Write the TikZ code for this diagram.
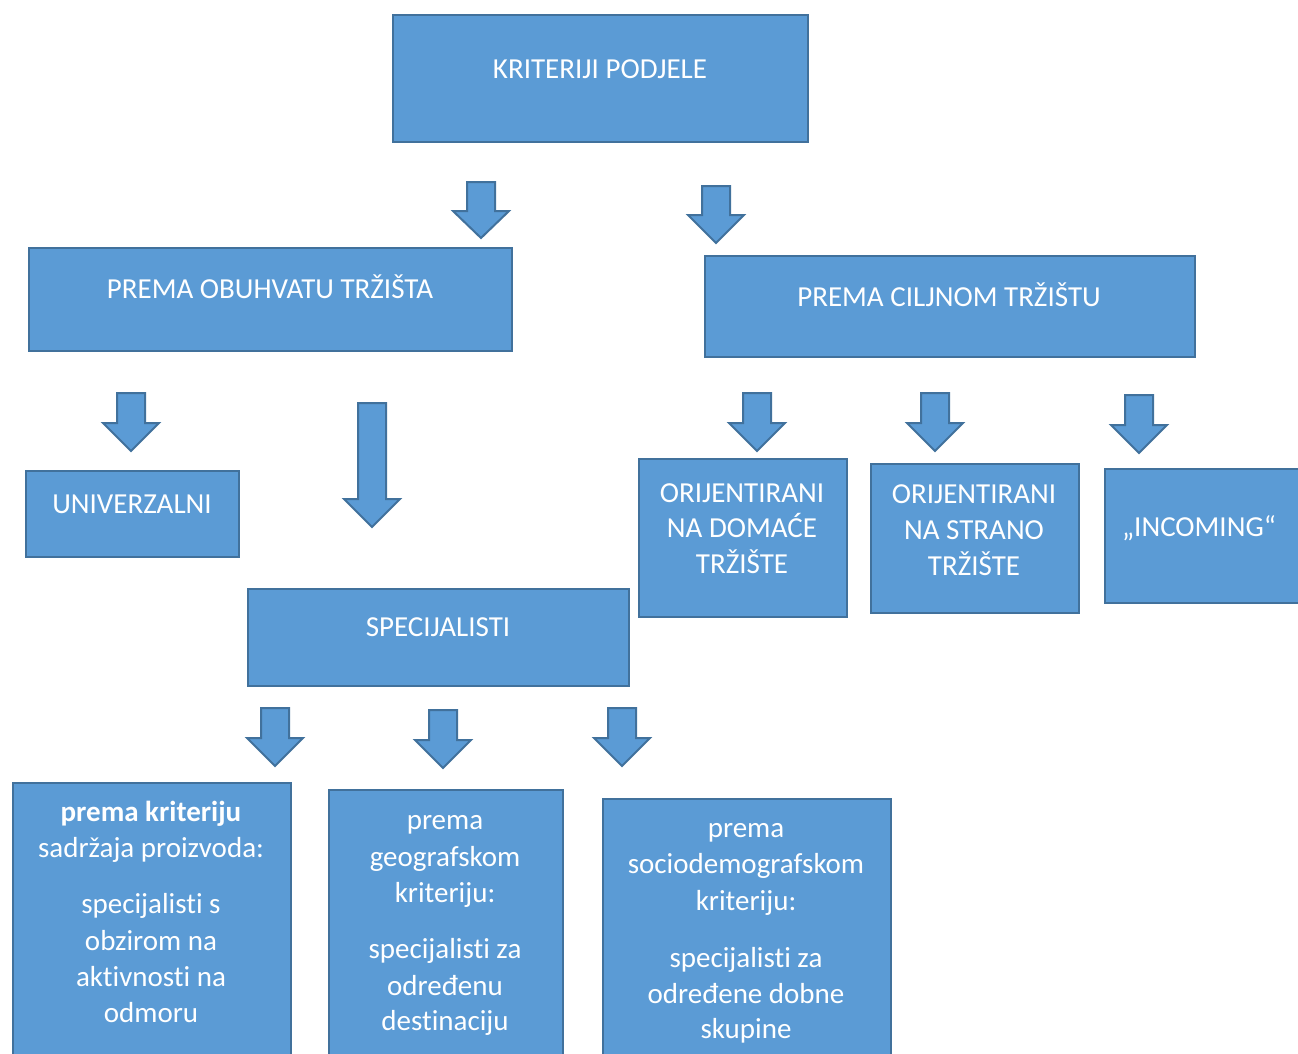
\documentclass[tikz,border=0pt]{standalone}
\usepackage{fontspec}
\setmainfont{Carlito}[Ligatures={NoCommon}]
\definecolor{boxfill}{HTML}{5B9BD5}
\definecolor{boxline}{HTML}{41719C}
\tikzset{
  x=1pt, y=-1pt,
  boxsty/.style={draw=boxline, fill=boxfill, line width=2pt, inner sep=0pt},
  arrowsty/.style={draw=boxline, fill=boxfill, line width=2pt, line join=miter},
  txt/.style={text=white, font=\fontsize{29}{36}\selectfont, inner sep=0pt, anchor=base},
  btxt/.style={txt, font=\fontsize{29}{36}\selectfont\bfseries},
}
\newcommand{\blockarrow}[4]{%
  \draw[arrowsty] ({#1-14},#2) -- ({#1+14},#2) -- ({#1+14},#3) -- ({#1+28},#3)
    -- (#1,#4) -- ({#1-28},#3) -- ({#1-14},#3) -- cycle;}
\newcommand{\rectbox}[5]{%
  \node[boxsty, anchor=north west, minimum width={#4-#2-1}, minimum height={#5-#3-1}] (#1) at (#2,#3) {};}
\begin{document}
\begin{tikzpicture}
\useasboundingbox (0,0) rectangle (1298,1053);
\clip (0,0) rectangle (1298,1053);
\fill[white] (0,0) rectangle (1298,1053);

% boxes
\rectbox{root}{392}{14}{808}{142}
\rectbox{obuhvat}{28}{247}{512}{351}
\rectbox{ciljno}{704}{255}{1195}{357}
\rectbox{univ}{25}{470}{239}{557}
\rectbox{spec}{247}{588}{629}{686}
\rectbox{domace}{638}{458}{847}{617}
\rectbox{strano}{870}{463}{1079}{613}
\rectbox{incoming}{1104}{468}{1310}{603}
\rectbox{sadrzaj}{12}{782}{291}{1070}
\rectbox{geo}{328}{789}{563}{1070}
\rectbox{socio}{602}{798}{891}{1070}

% texts
\node[txt] (troot) at (600,78) {KRITERIJI PODJELE};
\node[txt] (tobuhvat) at (270,298) {PREMA OBUHVATU TRŽIŠTA};
\node[txt] (tciljno) at (949,306) {PREMA CILJNOM TRŽIŠTU};
\node[txt] (tuniv) at (132,513) {UNIVERZALNI};
\node[txt] (tspec) at (438,636) {SPECIJALISTI};
\node[txt] (tdom1) at (742,502) {ORIJENTIRANI};
\node[txt] (tdom2) at (742,537) {NA DOMAĆE};
\node[txt] (tdom3) at (742,573) {TRŽIŠTE};
\node[txt] (tstr1) at (974,503) {ORIJENTIRANI};
\node[txt] (tstr2) at (974,539) {NA STRANO};
\node[txt] (tstr3) at (974,575) {TRŽIŠTE};
\node[txt] (tinc) at (1199,536) {„INCOMING“};

\node[btxt] (ts1) at (151,821) {prema kriteriju};
\node[txt] (ts2) at (151,857) {sadržaja proizvoda:};
\node[txt] (ts3) at (151,913) {specijalisti s};
\node[txt] (ts4) at (151,950) {obzirom na};
\node[txt] (ts5) at (151,986) {aktivnosti na};
\node[txt] (ts6) at (151,1022) {odmoru};

\node[txt] (tg1) at (445,829) {prema};
\node[txt] (tg2) at (445,866) {geografskom};
\node[txt] (tg3) at (445,902) {kriteriju:};
\node[txt] (tg4) at (445,958) {specijalisti za};
\node[txt] (tg5) at (445,995) {određenu};
\node[txt] (tg6) at (445,1030) {destinaciju};

\node[txt] (tc1) at (746,837) {prema};
\node[txt] (tc2) at (746,873) {sociodemografskom};
\node[txt] (tc3) at (746,910) {kriteriju:};
\node[txt] (tc4) at (746,967) {specijalisti za};
\node[txt] (tc5) at (746,1003) {određene dobne};
\node[txt] (tc6) at (746,1038) {skupine};

% block arrows
\blockarrow{481}{182}{211}{238}
\blockarrow{716}{186}{215}{243}
\blockarrow{131}{393}{423}{451}
\blockarrow{372}{403}{499}{527}
\blockarrow{757}{393}{423}{451}
\blockarrow{935}{393}{423}{451}
\blockarrow{1139}{395}{425}{453}
\blockarrow{275}{708}{738}{766}
\blockarrow{443}{710}{740}{768}
\blockarrow{622}{708}{738}{766}
\end{tikzpicture}
\end{document}
